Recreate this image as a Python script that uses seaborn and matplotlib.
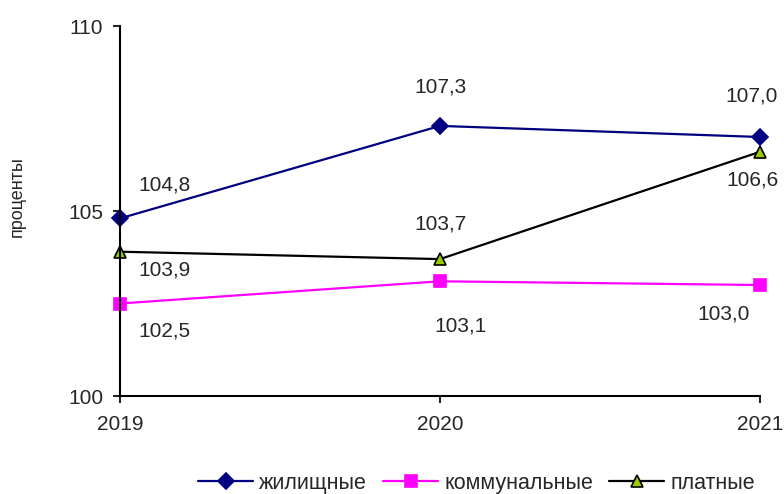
import pandas as pd
import matplotlib.pyplot as plt
import seaborn as sns

# Data
years = [2019, 2020, 2021]
housing = [104.8, 107.3, 107.0]
utilities = [102.5, 103.1, 103.0]
paid = [103.9, 103.7, 106.6]
names = ["жилищные", "коммунальные", "платные"]

sns.set_style("white")
plt.rcParams["font.family"] = ["Liberation Sans", "DejaVu Sans"]
FS = 15

fig = plt.figure(figsize=(7.84, 4.94), dpi=100)
ax = fig.add_axes([120 / 784, 1 - 396 / 494, 640 / 784, 370 / 494])

df = pd.DataFrame({"year": years * 3,
                   "value": housing + utilities + paid,
                   "series": [n for n in names for _ in years]})

styles = {
    "жилищные": dict(color="#000080", marker="D", markersize=8,
                     markerfacecolor="#000080", markeredgecolor="#000080"),
    "коммунальные": dict(color="#FF00FF", marker="s", markersize=8,
                         markerfacecolor="#FF00FF", markeredgecolor="#FF00FF"),
    "платные": dict(color="black", marker="^", markersize=9,
                    markerfacecolor="#99CC00", markeredgecolor="black"),
}
for name in names:
    sub = df[df["series"] == name]
    sns.lineplot(data=sub, x="year", y="value", ax=ax, label=name,
                 linewidth=1.6, markeredgewidth=1.2, **styles[name])

# value labels (offsets in pixels from the point)
offsets = {
    "жилищные": [(44, 33), (0, 39), (-8, 41)],
    "коммунальные": [(44, -27), (20, -45), (-36, -29)],
    "платные": [(44, -18), (0, 35), (-8, -28)],
}
for name in names:
    sub = df[df["series"] == name]
    for (x, y), off in zip(zip(sub["year"], sub["value"]), offsets[name]):
        ax.annotate(f"{y:.1f}".replace(".", ","), (x, y), xytext=off,
                    textcoords="offset pixels", ha="center", va="center",
                    fontsize=FS)

ax.set_xlim(2019, 2021)
ax.set_ylim(100, 110)
ax.set_xticks(years)
ax.set_yticks([100, 105, 110])
ax.set_xlabel("")
ax.set_ylabel("проценты", fontsize=13)
ax.yaxis.set_label_coords(-0.148, 0.538)
for s in ["top", "right"]:
    ax.spines[s].set_visible(False)
for s in ["left", "bottom"]:
    ax.spines[s].set_color("black")
    ax.spines[s].set_linewidth(1.5)
ax.tick_params(axis="both", direction="out", length=5, width=1.5,
               labelsize=FS, left=True, bottom=True)
ax.tick_params(axis="y", pad=7)
ax.tick_params(axis="x", pad=9)
for line in ax.get_lines():
    line.set_clip_on(False)

ax.get_legend().remove()
handles, labels = ax.get_legend_handles_labels()
fig.legend(handles, labels, loc="center", bbox_to_anchor=(0.608, 0.022),
           ncol=3, frameon=False, fontsize=15.5, handlelength=2.55,
           columnspacing=0.75, handletextpad=0.28)

plt.savefig("out.png", dpi=100)
plt.close()
